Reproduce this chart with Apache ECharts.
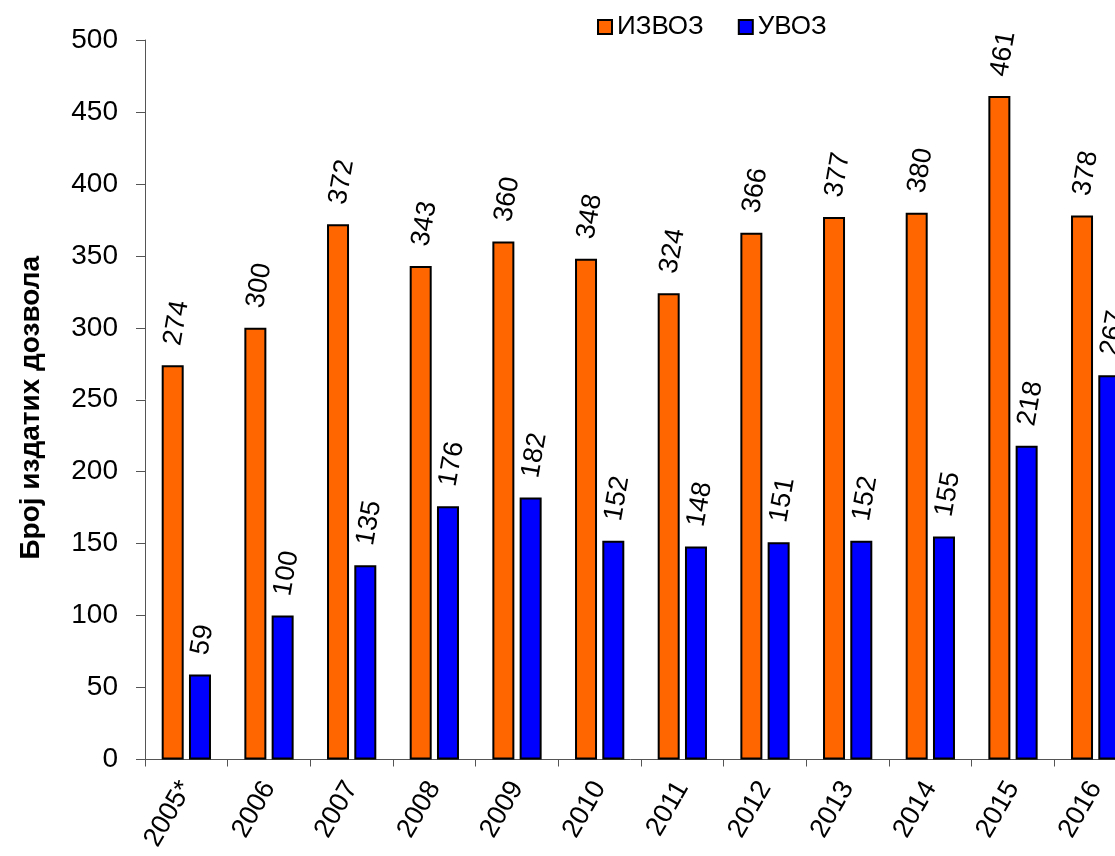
<!DOCTYPE html>
<html>
<head>
<meta charset="utf-8">
<script src="https://cdn.jsdelivr.net/npm/echarts@6/dist/echarts.min.js"></script>
<style>
html,body{margin:0;padding:0;background:#fff;}
#chart{width:1115px;height:856px;}
</style>
</head>
<body>
<div id="chart"></div>
<script>
const categories = ['2005*','2006','2007','2008','2009','2010','2011','2012','2013','2014','2015','2016'];
const izvoz = [274,300,372,343,360,348,324,366,377,380,461,378];
const uvoz = [59,100,135,176,182,152,148,151,152,155,218,267];
const seriesNames = ['ИЗВОЗ','УВОЗ'];
const yAxisName = 'Број издатих дозвола';

const FONT = 'Liberation Sans, Arial, sans-serif';
const chart = echarts.init(document.getElementById('chart'));

const labelCfg = {
  show: true,
  position: 'top',
  rotate: 80,
  align: 'left',
  verticalAlign: 'middle',
  distance: 20,
  fontSize: 27,
  fontFamily: FONT,
  color: '#000'
};

chart.setOption({
  animation: false,
  backgroundColor: '#fff',
  textStyle: { fontFamily: FONT },
  grid: { left: 145, width: 992, top: 40, height: 719.5, containLabel: false, outerBoundsMode: 'none' },
  legend: {
    left: 592,
    top: 9,
    itemWidth: 14,
    itemHeight: 14,
    itemGap: 34,
    icon: 'rect',
    textStyle: { fontSize: 26, fontFamily: FONT, color: '#000' },
    data: seriesNames
  },
  xAxis: {
    type: 'category',
    data: categories,
    axisLine: { lineStyle: { color: '#555', width: 1 } },
    axisTick: { show: true, length: 7, lineStyle: { color: '#555' } },
    axisLabel: { rotate: 60, fontSize: 27, fontFamily: FONT, color: '#000', margin: 24, interval: 0 }
  },
  yAxis: {
    type: 'value',
    min: 0,
    max: 500,
    interval: 50,
    name: yAxisName,
    nameLocation: 'middle',
    nameRotate: 90,
    nameGap: 100,
    nameTextStyle: { fontSize: 28, fontWeight: 'bold', fontFamily: FONT, color: '#000', padding: [0, 16, 0, 0] },
    axisLine: { show: true, lineStyle: { color: '#555', width: 1 } },
    axisTick: { show: true, length: 9, inside: false, lineStyle: { color: '#555' } },
    axisLabel: { fontSize: 28, fontFamily: FONT, color: '#000', margin: 27 },
    splitLine: { show: false }
  },
  series: [
    {
      name: seriesNames[0],
      type: 'bar',
      data: izvoz,
      barWidth: 22,
      barGap: '24%',
      itemStyle: { color: '#FF6600', borderColor: '#000', borderWidth: 2 },
      label: labelCfg
    },
    {
      name: seriesNames[1],
      type: 'bar',
      data: uvoz,
      barWidth: 22,
      barGap: '24%',
      itemStyle: { color: '#0000FF', borderColor: '#000', borderWidth: 2 },
      label: labelCfg
    }
  ]
});
</script>
</body>
</html>
